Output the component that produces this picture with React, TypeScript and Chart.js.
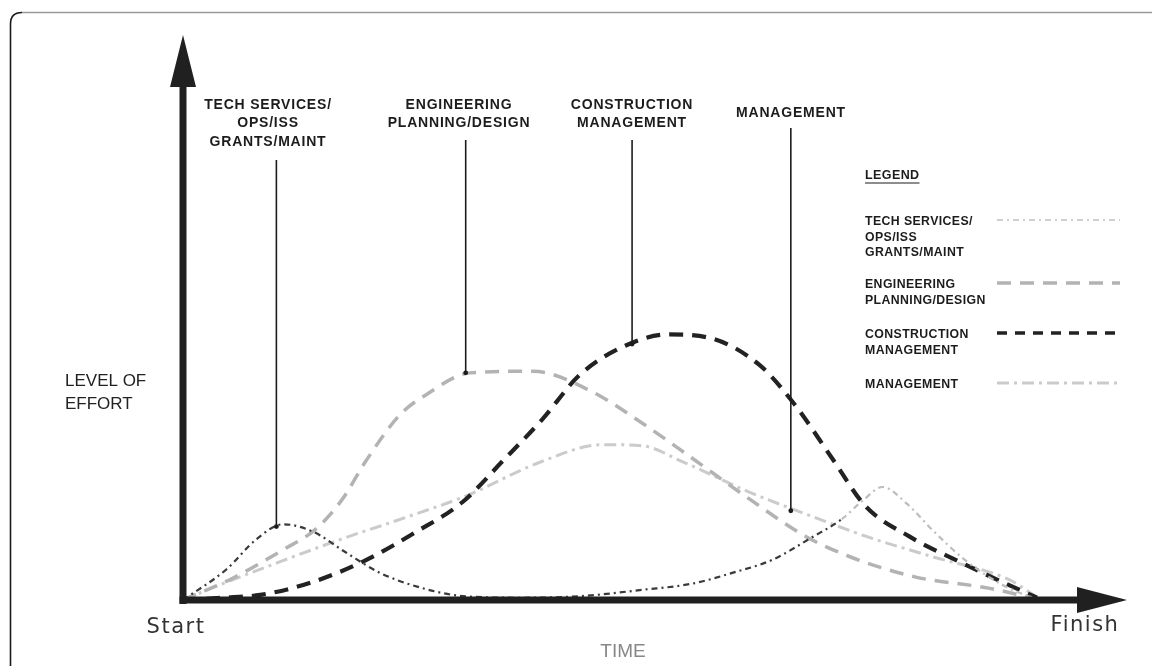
import React, { useEffect, useRef } from 'react';
import { Chart, registerables } from 'chart.js';

Chart.register(...registerables);

// ---- Data (time 0 = Start, 100 = Finish; level of effort 0..100) ----
const techX = [0, 5.1, 8.6, 11.8, 15.3, 19.2, 23.2, 28.2, 32.9, 40, 47, 54.1, 60, 64.7, 69.4, 74.1, 77.6, 80, 82.4, 85.3, 88.2, 92.1, 96.5, 100];
const techY = [0, 5.4, 10.7, 13.4, 12.1, 8.4, 4.8, 2.1, 0.7, 0.4, 0.7, 1.8, 2.9, 4.8, 7.1, 11.1, 14.3, 17.5, 20, 17, 12.5, 7.1, 2.7, 0.4];

const engX = [0, 5.9, 11.8, 15.6, 18.8, 21.5, 25.5, 28.6, 33.8, 41.2, 47.9, 53.8, 59.6, 66.7, 73.3, 78.5, 86.2, 94.9, 100];
const engY = [0, 3.9, 8.9, 12.5, 17.9, 24.5, 32.7, 36.3, 40.2, 40.5, 37.1, 31.6, 25.5, 17.9, 11.3, 7.7, 4.1, 2.1, 0.4];

const consX = [0, 4.7, 9.1, 14.9, 21.2, 27.4, 32.9, 37.6, 42.4, 46.7, 52.1, 57.1, 62, 67.9, 72.1, 76.5, 80.4, 85.5, 91.4, 96.5, 100.6];
const consY = [0, 0.4, 0.9, 3.0, 6.8, 12.0, 17.3, 24.5, 32.1, 39.8, 45, 47, 46.4, 41.6, 34.5, 25, 16.6, 11.3, 6.8, 3.2, 0.4];

const mgmtX = [0, 4.7, 10.6, 18.5, 26.2, 33.3, 42.4, 49.4, 54.1, 58.8, 66.7, 74.1, 80.4, 88.2, 97.3, 100.6];
const mgmtY = [0, 2.9, 6.3, 10.7, 14.6, 18.4, 24.6, 27.5, 27.3, 24.5, 19.1, 14.8, 11.3, 7.7, 3.6, 0.5];

const seriesNames = ['TECH SERVICES/OPS/ISS GRANTS/MAINT', 'ENGINEERING PLANNING/DESIGN', 'CONSTRUCTION MANAGEMENT', 'MANAGEMENT'];

// Callout labels: text lines, and the curve point (time, effort) each points at
const calloutLines = [
  ['TECH SERVICES/', 'OPS/ISS', 'GRANTS/MAINT'],
  ['ENGINEERING', 'PLANNING/DESIGN'],
  ['CONSTRUCTION', 'MANAGEMENT'],
  ['MANAGEMENT'],
];
const calloutTargetX = [11.0, 33.3, 52.9, 71.6];
const calloutTargetY = [13.0, 40.2, 45.3, 15.8];

const legendLines = [
  ['TECH SERVICES/', 'OPS/ISS', 'GRANTS/MAINT'],
  ['ENGINEERING', 'PLANNING/DESIGN'],
  ['CONSTRUCTION', 'MANAGEMENT'],
  ['MANAGEMENT'],
];

const xAxisMax = 111.2;
const yAxisMax = 100;

// ---- Styles / layout (pixels) ----
const W = 1165;
const H = 666;
const calloutCenterX = [268, 459, 632, 791];
const calloutTopY = [105, 105, 105, 113];
const calloutLineH = 18.5;
const calloutPointerTop = [160, 140, 140, 128];
const legendTop = [222, 285, 335, 385];
const legendLineH = 15.5;

const toPts = (xs: number[], ys: number[]) => xs.map((x, i) => ({ x, y: ys[i] }));

export default function App() {
  const ref = useRef<HTMLCanvasElement | null>(null);

  useEffect(() => {
    const canvas = ref.current;
    if (!canvas) return;

    const decor = {
      id: 'decor',
      afterDatasetsDraw(chart: any) {
        const ctx: CanvasRenderingContext2D = chart.ctx;
        const xs = chart.scales.x;
        const ys = chart.scales.y;
        const ox = xs.getPixelForValue(0);
        const oy = ys.getPixelForValue(0);
        ctx.save();
        // frame
        ctx.strokeStyle = '#1a1a1a';
        ctx.lineWidth = 1.6;
        ctx.beginPath();
        ctx.moveTo(10.5, H);
        ctx.lineTo(10.5, 24);
        ctx.quadraticCurveTo(10.5, 12.5, 22, 12.5);
        ctx.stroke();
        ctx.strokeStyle = '#9a9a9a';
        ctx.lineWidth = 1.4;
        ctx.beginPath();
        ctx.moveTo(22, 12.5);
        ctx.lineTo(1152, 12.5);
        ctx.stroke();

        // axes
        ctx.fillStyle = '#202020';
        const top = chart.chartArea.top;
        const right = chart.chartArea.right;
        ctx.fillRect(ox - 3.5, top + 45, 7, oy - top - 45 + 4);
        ctx.beginPath();
        ctx.moveTo(ox - 13, top + 52);
        ctx.lineTo(ox + 13, top + 52);
        ctx.lineTo(ox, top);
        ctx.closePath();
        ctx.fill();
        ctx.fillRect(ox - 3.5, oy - 3.5, right - ox - 45, 7);
        ctx.beginPath();
        ctx.moveTo(right - 50, oy - 13);
        ctx.lineTo(right - 50, oy + 13);
        ctx.lineTo(right, oy);
        ctx.closePath();
        ctx.fill();
        ctx.restore();
      },
      afterDraw(chart: any) {
        const ctx: CanvasRenderingContext2D = chart.ctx;
        const xs = chart.scales.x;
        const ys = chart.scales.y;
        ctx.save();
        ctx.fillStyle = '#1c1c1c';
        ctx.textBaseline = 'middle';

        // callouts
        ctx.font = 'bold 14px "Liberation Sans", Arial, sans-serif';
        (ctx as any).letterSpacing = '0.8px';
        ctx.textAlign = 'center';
        calloutLines.forEach((lines, i) => {
          lines.forEach((t, j) => {
            ctx.fillText(t, calloutCenterX[i], calloutTopY[i] + j * calloutLineH);
          });
          const tx = xs.getPixelForValue(calloutTargetX[i]);
          const ty = ys.getPixelForValue(calloutTargetY[i]);
          ctx.strokeStyle = '#1c1c1c';
          ctx.lineWidth = 1.6;
          ctx.beginPath();
          ctx.moveTo(tx, calloutPointerTop[i]);
          ctx.lineTo(tx, ty);
          ctx.stroke();
          ctx.beginPath();
          ctx.arc(tx, ty, 2.4, 0, Math.PI * 2);
          ctx.fill();
        });

        // legend
        ctx.textAlign = 'left';
        ctx.font = 'bold 12.5px "Liberation Sans", Arial, sans-serif';
        (ctx as any).letterSpacing = '0.4px';
        const lgX = 865;
        ctx.fillText('LEGEND', lgX, 176);
        const lw = ctx.measureText('LEGEND').width;
        ctx.lineWidth = 1.2;
        ctx.strokeStyle = '#1c1c1c';
        ctx.beginPath();
        ctx.moveTo(lgX, 183);
        ctx.lineTo(lgX + lw, 183);
        ctx.stroke();
        ctx.font = 'bold 12.3px "Liberation Sans", Arial, sans-serif';
        legendLines.forEach((lines, i) => {
          lines.forEach((t, j) => ctx.fillText(t, lgX, legendTop[i] + j * legendLineH));
          const ds = chart.data.datasets[i];
          ctx.save();
          ctx.strokeStyle = i === 0 ? '#cfcfcf' : ds.borderColor;
          ctx.lineWidth = i === 2 ? 3.5 : ds.borderWidth;
          ctx.setLineDash(i === 2 ? [10, 8] : ds.borderDash);
          ctx.beginPath();
          ctx.moveTo(997, legendTop[i] - 2);
          ctx.lineTo(1120, legendTop[i] - 2);
          ctx.stroke();
          ctx.restore();
        });

        // axis texts
        (ctx as any).letterSpacing = '0px';
        ctx.font = '17px "Liberation Sans", Arial, sans-serif';
        ctx.fillStyle = '#222';
        ctx.fillText('LEVEL OF', 65, 381);
        ctx.fillText('EFFORT', 65, 404);
        ctx.font = '21px "DejaVu Sans", sans-serif';
        (ctx as any).letterSpacing = '1.5px';
        ctx.fillStyle = '#333';
        ctx.textAlign = 'center';
        ctx.fillText('Start', 176, 628);
        ctx.fillText('Finish', 1085, 626);
        (ctx as any).letterSpacing = '0px';
        ctx.font = '19px "Liberation Sans", Arial, sans-serif';
        ctx.fillStyle = '#888';
        ctx.fillText('TIME', 623, 652);
        ctx.restore();
      },
    };

    const chart = new Chart(canvas, {
      type: 'line',
      data: {
        datasets: [
          {
            label: seriesNames[0],
            data: toPts(techX, techY),
            borderColor: '#3a3a3a',
            borderWidth: 2.2,
            borderDash: [6, 4, 2, 4],
            segment: {
              borderColor: (c: any) => (c.p0.parsed.x >= 75 ? '#bdbdbd' : '#3a3a3a'),
            },
          },
          {
            label: seriesNames[1],
            data: toPts(engX, engY),
            borderColor: '#b3b3b3',
            borderWidth: 3.5,
            borderDash: [14, 9],
          },
          {
            label: seriesNames[2],
            data: toPts(consX, consY),
            borderColor: '#222222',
            borderWidth: 4.2,
            borderDash: [14, 9],
          },
          {
            label: seriesNames[3],
            data: toPts(mgmtX, mgmtY),
            borderColor: '#cbcbcb',
            borderWidth: 3,
            borderDash: [12, 5, 3, 5],
          },
        ],
      },
      options: {
        animation: false,
        responsive: false,
        maintainAspectRatio: false,
        layout: { padding: { left: 183, right: 38, top: 35, bottom: 66 } },
        elements: {
          point: { radius: 0 },
          line: { cubicInterpolationMode: 'monotone', fill: false },
        },
        scales: {
          x: { type: 'linear', min: 0, max: xAxisMax, display: false },
          y: { type: 'linear', min: 0, max: yAxisMax, display: false },
        },
        plugins: {
          legend: { display: false },
          tooltip: { enabled: false },
        },
      },
      plugins: [decor],
    } as any);

    return () => chart.destroy();
  }, []);

  return (
    <div style={{ position: 'absolute', left: 0, top: 0, width: W, height: H, background: '#fff' }}>
      <canvas ref={ref} width={W} height={H} style={{ width: W, height: H, display: 'block' }} />
    </div>
  );
}
